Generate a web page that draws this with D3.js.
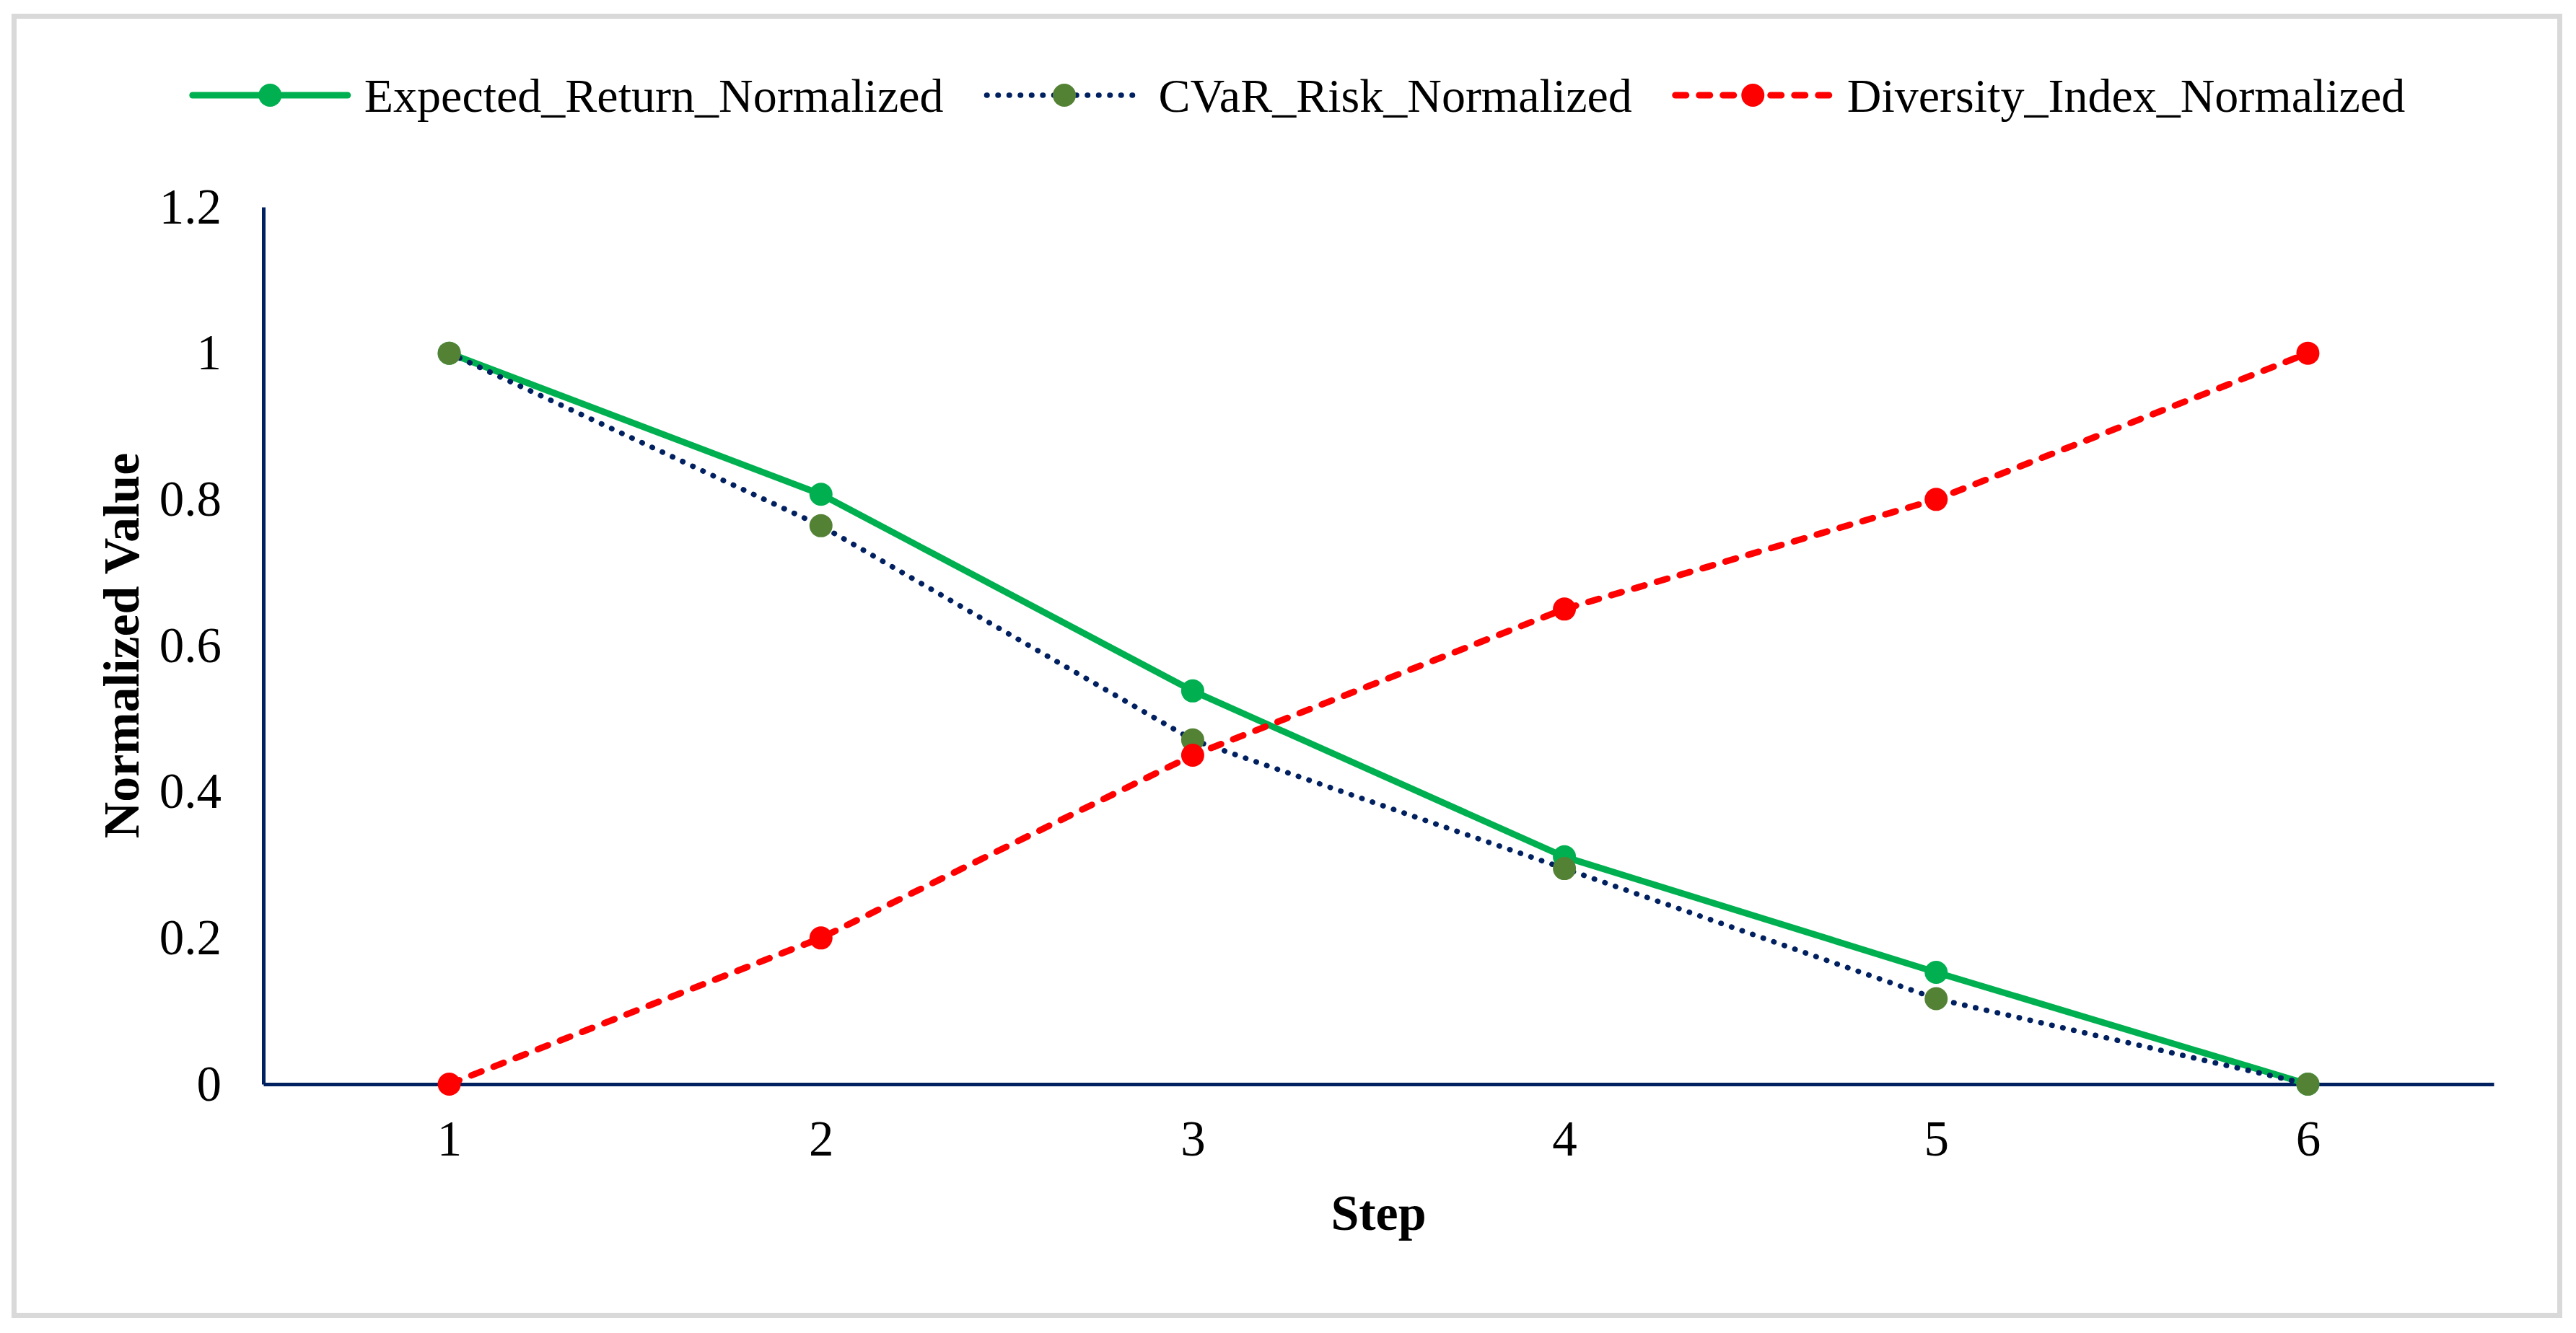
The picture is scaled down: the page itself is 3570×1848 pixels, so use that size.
<!DOCTYPE html>
<html>
<head>
<meta charset="utf-8">
<script src="https://cdn.jsdelivr.net/npm/d3@7"></script>
<style>
  body { margin: 0; background: #fff; }
  text { font-family: "Times New Roman", "Liberation Serif", serif; fill: #000; }
</style>
</head>
<body>
<div id="chart"></div>
<script>
// data
const steps = [1, 2, 3, 4, 5, 6]
const expectedReturn = [1, 0.807, 0.538, 0.311, 0.153, 0]
const cvarRisk = [1, 0.764, 0.471, 0.295, 0.117, 0]
const diversityIndex = [0, 0.2, 0.45, 0.65, 0.8, 1]
const yTicks = [0, 0.2, 0.4, 0.6, 0.8, 1, 1.2]
const seriesNames = ["Expected_Return_Normalized", "CVaR_Risk_Normalized", "Diversity_Index_Normalized"]

const series = [
    {name: seriesNames[0], values: expectedReturn, line: "#00B050", marker: "#00B050", width: 9, dash: null},
    {name: seriesNames[1], values: cvarRisk, line: "#002060", marker: "#548235", width: 7.5, dash: "0.5,15"},
    {name: seriesNames[2], values: diversityIndex, line: "#FF0000", marker: "#FF0000", width: 9, dash: "15,18"},
]

let dimensions = {
    width: 3570,
    height: 1848,
    margin: {top: 287, right: 114, bottom: 345, left: 365},
}
dimensions.boundedWidth = dimensions.width - dimensions.margin.left - dimensions.margin.right
dimensions.boundedHeight = dimensions.height - dimensions.margin.top - dimensions.margin.bottom

const svg = d3.select("#chart")
    .append("svg")
        .attr("width", dimensions.width)
        .attr("height", dimensions.height)

// outer frame
svg.append("rect")
    .attr("x", 19.5)
    .attr("y", 22.5)
    .attr("width", 3528)
    .attr("height", 1801)
    .attr("fill", "none")
    .attr("stroke", "#d9d9d9")
    .attr("stroke-width", 7)

const bounds = svg.append("g")
    .attr("transform", `translate(${dimensions.margin.left},${dimensions.margin.top})`)

// scales
const xScale = d3.scalePoint()
    .domain(steps)
    .range([0, dimensions.boundedWidth])
    .padding(0.5)

const yScale = d3.scaleLinear()
    .domain([0, 1.2])
    .range([dimensions.boundedHeight, 0])

// axes
const yAxis = bounds.append("g")
    .call(d3.axisLeft(yScale).tickValues(yTicks).tickSize(0).tickSizeOuter(0).tickPadding(58)
        .tickFormat(d => d3.format("~g")(d)))
yAxis.select(".domain").attr("stroke", "#002060").attr("stroke-width", 5)
yAxis.selectAll("text").style("font-size", "69px").attr("font-family", null)

const xAxis = bounds.append("g")
    .attr("transform", `translate(0,${dimensions.boundedHeight})`)
    .call(d3.axisBottom(xScale).tickSize(0).tickSizeOuter(0).tickPadding(50))
xAxis.select(".domain").attr("stroke", "#002060").attr("stroke-width", 5)
xAxis.selectAll("text").style("font-size", "69px").attr("font-family", null)

// lines and markers
const lineGenerator = d3.line()
    .x((d, i) => xScale(steps[i]))
    .y(d => yScale(d))

series.forEach(s => {
    bounds.append("path")
        .attr("d", lineGenerator(s.values))
        .attr("fill", "none")
        .attr("stroke", s.line)
        .attr("stroke-width", s.width)
        .attr("stroke-linecap", "round")
        .attr("stroke-linejoin", "round")
        .attr("stroke-dasharray", s.dash)

    bounds.selectAll(null)
        .data(s.values)
        .enter()
        .append("circle")
            .attr("cx", (d, i) => xScale(steps[i]))
            .attr("cy", d => yScale(d))
            .attr("r", 16)
            .attr("fill", s.marker)
})

// axis titles
bounds.append("text")
    .attr("x", dimensions.boundedWidth / 2)
    .attr("y", dimensions.boundedHeight + 202)
    .attr("text-anchor", "middle")
    .style("font-size", "70px")
    .style("font-weight", "bold")
    .text("Step")

bounds.append("text")
    .attr("transform", `translate(${192 - dimensions.margin.left},${dimensions.boundedHeight / 2}) rotate(-90)`)
    .attr("text-anchor", "middle")
    .style("font-size", "70px")
    .style("font-weight", "bold")
    .text("Normalized Value")

// legend
const legend = svg.append("g")
const legendY = 132
const lineLen = 215
const textGap = 23
const itemGap = 60

const items = series.map(s => {
    const g = legend.append("g")
    g.append("line")
        .attr("x1", 0).attr("x2", lineLen)
        .attr("y1", legendY).attr("y2", legendY)
        .attr("stroke", s.line)
        .attr("stroke-width", s.width)
        .attr("stroke-linecap", "round")
        .attr("stroke-dasharray", s.dash)
    g.append("circle")
        .attr("cx", lineLen / 2)
        .attr("cy", legendY)
        .attr("r", 16)
        .attr("fill", s.marker)
    const t = g.append("text")
        .attr("x", lineLen + textGap)
        .attr("y", legendY + 23)
        .style("font-size", "66px")
        .text(s.name)
    return {g, w: lineLen + textGap + t.node().getComputedTextLength()}
})

const totalWidth = d3.sum(items, d => d.w) + itemGap * (items.length - 1)
let cursor = 1800 - totalWidth / 2
items.forEach(d => {
    d.g.attr("transform", `translate(${cursor},0)`)
    cursor += d.w + itemGap
})
</script>
</body>
</html>
